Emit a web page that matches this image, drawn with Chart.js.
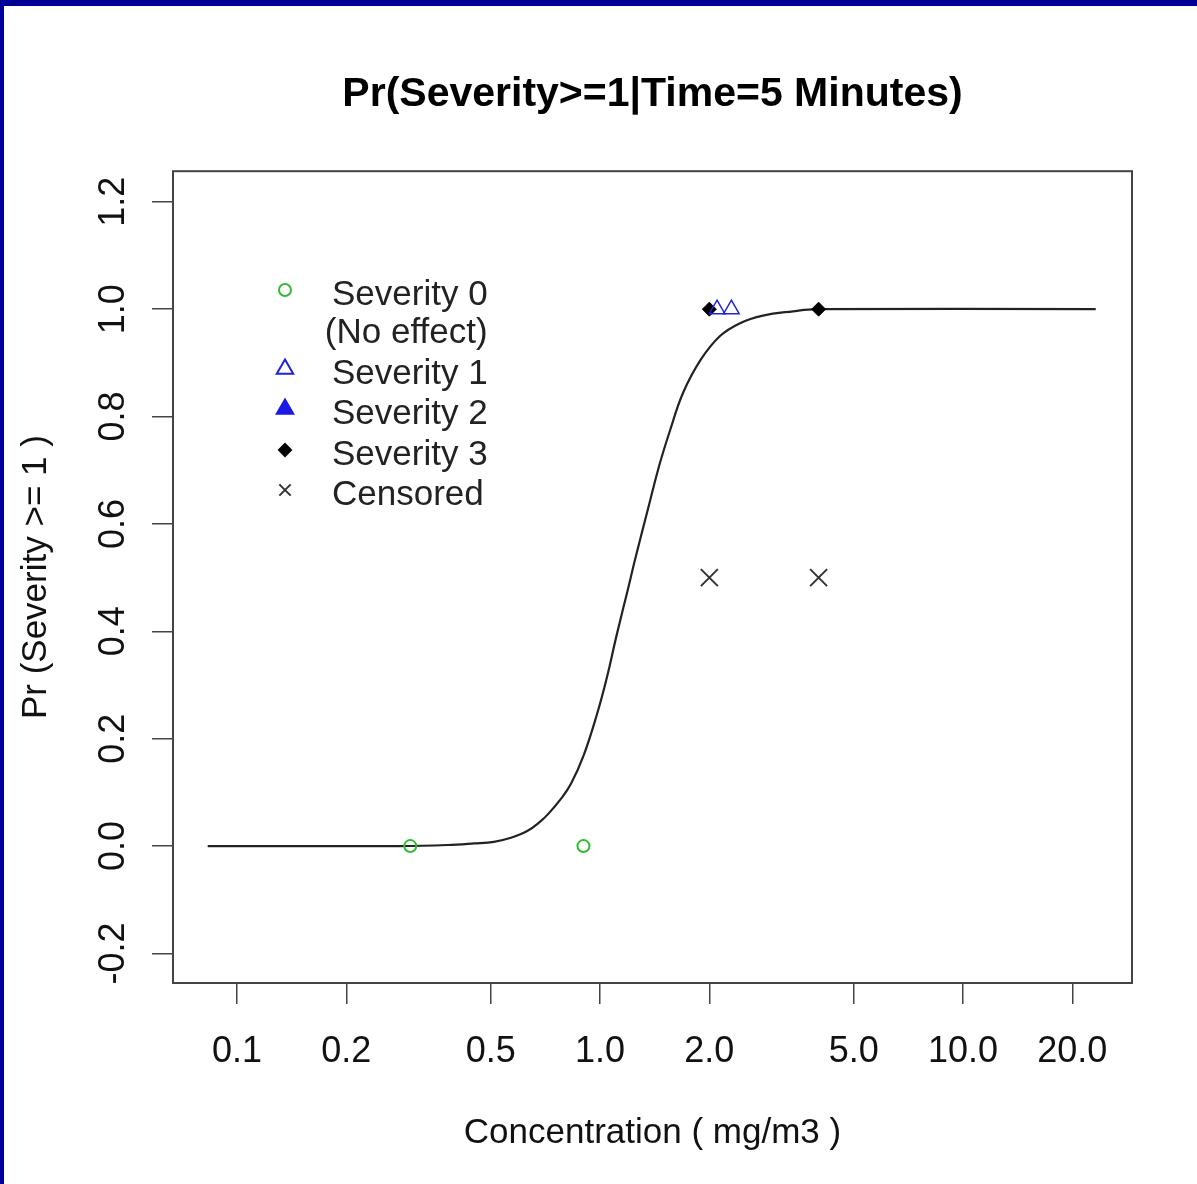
<!DOCTYPE html>
<html>
<head>
<meta charset="utf-8">
<script src="https://cdn.jsdelivr.net/npm/chart.js@4.4.1/dist/chart.umd.min.js"></script>
<style>
  html, body { margin: 0; padding: 0; background: #fff; overflow: hidden; }
  #wrap { position: relative; width: 1197px; height: 1184px; }
</style>
</head>
<body>
<div id="wrap"><canvas id="doseChart"></canvas></div>
<script>
// Fitted curve (concentration, probability)
var curveConc = [0.083, 0.28, 0.38, 0.45, 0.51, 0.565, 0.63, 0.685, 0.72, 0.78, 0.83, 0.90, 0.98, 1.045, 1.11, 1.19, 1.25, 1.36, 1.46, 1.56, 1.69, 1.89, 2.14, 2.43, 2.81, 3.40, 3.96, 23.2];
var curveProb = [0.0, 0.0, 0.002, 0.005, 0.008, 0.015, 0.028, 0.046, 0.06, 0.088, 0.115, 0.168, 0.245, 0.315, 0.392, 0.475, 0.535, 0.632, 0.712, 0.775, 0.843, 0.905, 0.95, 0.974, 0.988, 0.996, 1.0, 1.0];

// Observed responses
var sev0Conc = [0.3, 0.9];
var sev0Prob = [0, 0];
var sev1Conc = [2.1, 2.3];
var sev1Prob = [1, 1];
var sev2Conc = [];
var sev2Prob = [];
var sev3Conc = [2.0, 4.0];
var sev3Prob = [1, 1];
var censConc = [2.0, 4.0];
var censProb = [0.5, 0.5];

// Axis ticks
var xTickValues = [0.1, 0.2, 0.5, 1, 2, 5, 10, 20];
var xTickLabels = ['0.1', '0.2', '0.5', '1.0', '2.0', '5.0', '10.0', '20.0'];
var yTickValues = [-0.2, 0, 0.2, 0.4, 0.6, 0.8, 1.0, 1.2];
var yTickLabels = ['-0.2', '0.0', '0.2', '0.4', '0.6', '0.8', '1.0', '1.2'];

var legendLabels = ['Severity 0', 'Severity 1', 'Severity 2', 'Severity 3', 'Censored'];

function toPoints(xs, ys) {
    return xs.map(function (x, i) { return { x: x, y: ys[i] }; });
}

var FONT = '"Liberation Sans", Arial, sans-serif';

// Marker styles shared by the plot and the legend
var markerStyles = [
    { pointStyle: 'circle', radius: 6, borderWidth: 2, stroke: '#33bb33', fill: 'rgba(0,0,0,0)', legendRadius: 6 },
    { pointStyle: 'triangle', radius: 9, borderWidth: 1.5, stroke: '#2222dd', fill: 'rgba(0,0,0,0)', legendRadius: 9.5 },
    { pointStyle: 'triangle', radius: 9, borderWidth: 1.5, stroke: '#1a1ae6', fill: '#1a1ae6', legendRadius: 9.5 },
    { pointStyle: 'rectRot', radius: 7, borderWidth: 1, stroke: '#000', fill: '#000', legendRadius: 6 },
    { pointStyle: 'crossRot', radius: 12, borderWidth: 2, stroke: '#333', fill: '#333', legendRadius: 8 }
];

function pointDataset(label, xs, ys, m) {
    return {
        label: label,
        data: toPoints(xs, ys),
        pointStyle: m.pointStyle,
        pointRadius: m.radius,
        pointBorderWidth: m.borderWidth,
        pointBorderColor: m.stroke,
        pointBackgroundColor: m.fill,
        showLine: false,
        order: 1
    };
}

// Frame, box, rotated y labels and the inset legend
var decorPlugin = {
    id: 'decor',
    beforeDraw: function (chart) {
        var ctx = chart.ctx;
        ctx.save();
        ctx.fillStyle = '#ffffff';
        ctx.fillRect(0, 0, chart.width, chart.height);
        ctx.fillStyle = '#000099';
        ctx.fillRect(0, 0, chart.width, 6);
        ctx.fillRect(0, 0, 4, chart.height);
        ctx.restore();
    },
    afterDraw: function (chart) {
        var ctx = chart.ctx;
        var area = chart.chartArea;
        var yScale = chart.scales.y;
        ctx.save();
        // box around the plot
        ctx.strokeStyle = '#444';
        ctx.lineWidth = 2;
        ctx.strokeRect(area.left, area.top, area.right - area.left, area.bottom - area.top);

        // y tick labels, parallel to the axis
        ctx.fillStyle = '#111';
        ctx.font = '36px ' + FONT;
        ctx.textAlign = 'center';
        ctx.textBaseline = 'middle';
        yTickValues.forEach(function (v, i) {
            var py = yScale.getPixelForValue(v);
            ctx.save();
            ctx.translate(114, py);
            ctx.rotate(-Math.PI / 2);
            ctx.fillText(yTickLabels[i], 0, 0);
            ctx.restore();
        });

        // legend in the upper left of the plot
        var markX = 285, textX = 332;
        var rowY = [295, 374, 414, 455, 495];
        ctx.font = '35px ' + FONT;
        ctx.textAlign = 'left';
        legendLabels.forEach(function (lab, i) {
            var m = markerStyles[i];
            ctx.fillStyle = '#222';
            ctx.fillText(lab, textX, rowY[i]);
            if (i === 0) {
                var w = ctx.measureText(lab).width;
                ctx.textAlign = 'right';
                ctx.fillText('(No effect)', textX + w, 333);
                ctx.textAlign = 'left';
            }
            ctx.fillStyle = m.fill;
            ctx.strokeStyle = m.stroke;
            Chart.helpers.drawPoint(ctx, {
                pointStyle: m.pointStyle,
                radius: m.legendRadius,
                rotation: 0,
                borderWidth: m.borderWidth
            }, markX, rowY[i] - 5);
        });
        ctx.restore();
    }
};

document.addEventListener('DOMContentLoaded', function () {
    var ctx = document.getElementById('doseChart').getContext('2d');

    new Chart(ctx, {
        type: 'scatter',
        data: {
            datasets: [
                {
                    label: 'Fitted',
                    data: toPoints(curveConc, curveProb),
                    showLine: true,
                    borderColor: '#222',
                    borderWidth: 2.2,
                    pointRadius: 0,
                    tension: 0.4,
                    order: 10
                },
                pointDataset(legendLabels[0], sev0Conc, sev0Prob, markerStyles[0]),
                pointDataset(legendLabels[1], sev1Conc, sev1Prob, markerStyles[1]),
                pointDataset(legendLabels[2], sev2Conc, sev2Prob, markerStyles[2]),
                pointDataset(legendLabels[3], sev3Conc, sev3Prob, markerStyles[3]),
                pointDataset(legendLabels[4], censConc, censProb, markerStyles[4])
            ]
        },
        options: {
            responsive: true,
            maintainAspectRatio: false,
            animation: false,
            layout: { padding: { left: 0, top: 0, right: 65, bottom: 0 } },
            plugins: {
                legend: { display: false },
                tooltip: { enabled: false },
                title: {
                    display: true,
                    fullSize: false,
                    text: 'Pr(Severity>=1|Time=5 Minutes)',
                    color: '#000',
                    font: { family: FONT, size: 41, weight: 'bold' },
                    padding: { top: 70, bottom: 52 }
                }
            },
            scales: {
                x: {
                    type: 'logarithmic',
                    min: 0.0666,
                    max: 29.2,
                    afterBuildTicks: function (scale) {
                        scale.ticks = xTickValues.map(function (v) { return { value: v }; });
                    },
                    afterFit: function (scale) { scale.height = 201; },
                    ticks: {
                        autoSkip: false,
                        maxRotation: 0,
                        minRotation: 0,
                        padding: 26,
                        color: '#111',
                        font: { family: FONT, size: 36 },
                        callback: function (value) {
                            var i = xTickValues.indexOf(value);
                            return i >= 0 ? xTickLabels[i] : '';
                        }
                    },
                    grid: { drawOnChartArea: false, tickLength: 21, color: '#444', lineWidth: 1.5 },
                    border: { display: false },
                    title: {
                        display: true,
                        text: 'Concentration ( mg/m3 )',
                        color: '#111',
                        font: { family: FONT, size: 35 },
                        padding: { top: 0, bottom: 30 }
                    }
                },
                y: {
                    min: -0.255,
                    max: 1.257,
                    afterBuildTicks: function (scale) {
                        scale.ticks = yTickValues.map(function (v) { return { value: v }; });
                    },
                    afterFit: function (scale) { scale.width = 173; },
                    ticks: { display: false },
                    grid: { drawOnChartArea: false, tickLength: 21, color: '#444', lineWidth: 1.5 },
                    border: { display: false },
                    title: {
                        display: true,
                        text: 'Pr (Severity >= 1 )',
                        color: '#111',
                        font: { family: FONT, size: 35 },
                        padding: { top: 15, bottom: 0 }
                    }
                }
            }
        },
        plugins: [decorPlugin]
    });
});
</script>
</body>
</html>
